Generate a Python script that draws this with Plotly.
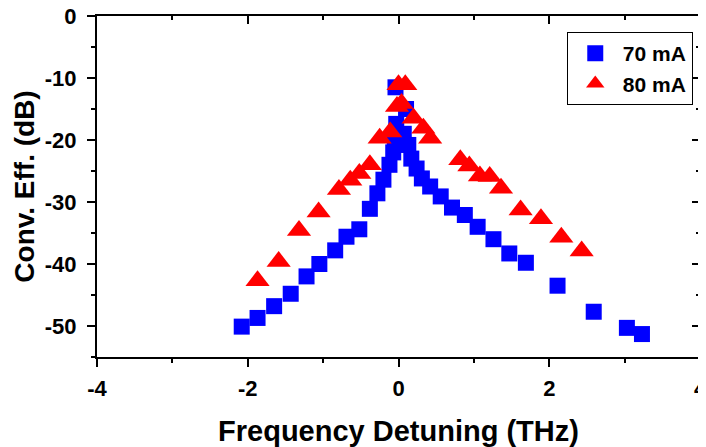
import plotly.graph_objects as go

# 70 mA (blue squares)
x70 = [-2.08, -1.87, -1.65, -1.43, -1.22, -1.05, -0.84, -0.69, -0.52, -0.38, -0.28, -0.20,
       -0.12, -0.07, -0.05, -0.03, -0.04, 0.10, 0.07, 0.13, 0.17, 0.24, 0.31, 0.42, 0.56,
       0.71, 0.88, 1.05, 1.26, 1.47, 1.69, 2.11, 2.59, 3.03, 3.23]
y70 = [-50.1, -48.7, -46.8, -44.8, -42.0, -40.0, -37.8, -35.6, -34.4, -31.1, -28.6, -26.4,
       -24.0, -22.0, -20.0, -17.4, -11.5, -15.0, -19.0, -20.8, -23.0, -24.6, -26.2, -27.5, -29.1,
       -30.9, -32.1, -34.0, -36.0, -38.3, -39.8, -43.5, -47.7, -50.3, -51.3]

# 80 mA (red triangles)
x80 = [-1.87, -1.59, -1.32, -1.06, -0.79, -0.64, -0.52, -0.38, -0.25, -0.11, -0.02, 0.04,
       0.00, 0.09, 0.20, 0.33, 0.42, 0.82, 0.94, 1.08, 1.21, 1.36, 1.62, 1.89, 2.16, 2.43]
y80 = [-42.7, -39.6, -34.6, -31.6, -28.0, -26.5, -25.4, -24.0, -19.7, -18.7, -14.6, -14.1,
       -11.1, -11.1, -16.5, -18.1, -19.7, -23.2, -24.2, -25.8, -25.9, -27.8, -31.3, -32.7, -35.7, -37.9]

series_names = ["70 mA", "80 mA"]
x_ticks = [-4, -2, 0, 2, 4]
x_ticktext = ["-4", "-2", "0", "2", "4"]
y_ticks = [0, -10, -20, -30, -40, -50]
y_ticktext = ["0", "-10", "-20", "-30", "-40", "-50"]

FONT = "Liberation Sans, Arial, sans-serif"

fig = go.Figure()
fig.add_trace(go.Scatter(x=x70, y=y70, mode="markers", name=series_names[0],
                         legendgroup="a",
                         marker=dict(symbol="square", size=16, color="#0000FF", line=dict(width=0))))
fig.add_trace(go.Scatter(x=x80, y=y80, mode="markers", name=series_names[1],
                         legendgroup="b",
                         marker=dict(symbol="triangle-up", size=21, color="#FF0000", line=dict(width=0))))

tickfont = dict(family=FONT, size=22, color="black", weight="bold")
axis_common = dict(showgrid=False, zeroline=False, linecolor="black", linewidth=2,
                   tickcolor="black", tickwidth=2, ticklen=8, automargin=False,
                   ticklabeloverflow="allow", tickfont=tickfont)

# the page body adds an 8px margin, so the figure is sized to end at the window edge
fig.update_layout(
    width=698, height=439,
    margin=dict(l=89, r=6, t=8, b=90),
    paper_bgcolor="white", plot_bgcolor="white",
    font=dict(family=FONT, color="black"),
    xaxis=dict(range=[-4, 4], tickvals=x_ticks, ticktext=x_ticktext, ticks="outside",
               showline=True, mirror=True, ticklabelstandoff=3,
               minor=dict(dtick=1, ticklen=4, tickwidth=2, tickcolor="black", ticks="outside"),
               title=dict(text="Frequency Detuning (THz)",
                          font=dict(family=FONT, size=29, weight="bold"), standoff=20),
               **axis_common),
    yaxis=dict(range=[-55, 0], tickvals=y_ticks, ticktext=y_ticktext, ticks="outside",
               showline=True, mirror=True, ticklabelstandoff=6,
               minor=dict(dtick=5, ticklen=4, tickwidth=2, tickcolor="black", ticks="outside"),
               title=dict(text="Conv. Eff. (dB)",
                          font=dict(family=FONT, size=28, weight="bold"), standoff=2),
               **axis_common),
    xaxis2=dict(range=[-4, 4], overlaying="x", side="top", tickvals=x_ticks, ticks="inside",
                showticklabels=False, showline=False, showgrid=False, zeroline=False,
                tickcolor="black", tickwidth=2, ticklen=8, automargin=False,
                minor=dict(dtick=1, ticklen=4, tickwidth=2, tickcolor="black", ticks="inside")),
    yaxis2=dict(range=[-55, 0], overlaying="y", side="right", tickvals=y_ticks, ticks="inside",
                showticklabels=False, showline=False, showgrid=False, zeroline=False,
                tickcolor="black", tickwidth=2, ticklen=8, automargin=False,
                minor=dict(dtick=5, ticklen=4, tickwidth=2, tickcolor="black", ticks="inside")),
    legend=dict(x=0.988, y=0.953, xanchor="right", yanchor="top",
                bordercolor="black", borderwidth=1, bgcolor="white",
                font=dict(family=FONT, size=21, color="black", weight="bold"),
                traceorder="grouped", tracegroupgap=0, itemwidth=45),
    showlegend=True,
)
fig.add_trace(go.Scatter(x=[None], y=[None], xaxis="x2", yaxis="y2", showlegend=False,
                         hoverinfo="skip"))

fig.write_html("out.html")
